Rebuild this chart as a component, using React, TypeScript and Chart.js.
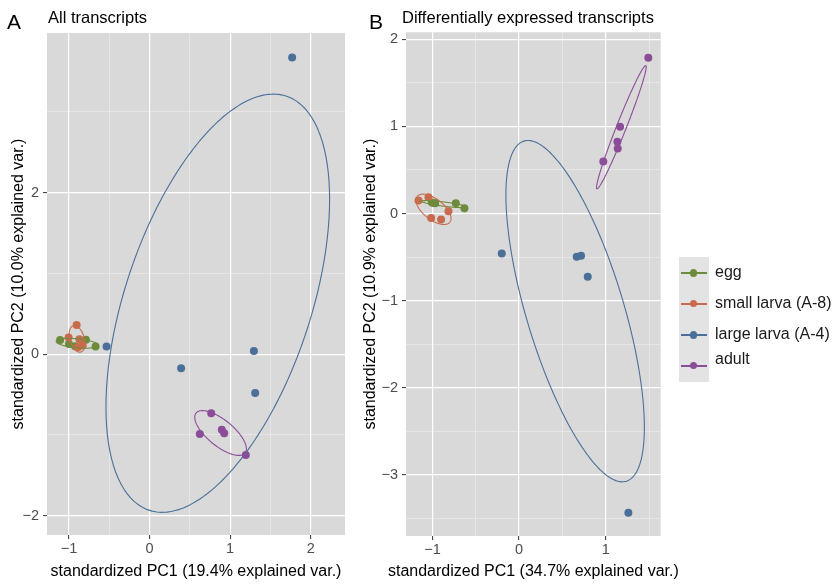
import React, { useEffect, useRef } from 'react';
import { Chart, registerables } from 'chart.js';

Chart.register(...registerables);

const FONT = '"Liberation Sans", Arial, Helvetica, sans-serif';

// ---------- groups ----------
const groupNames = ['egg', 'small larva (A-8)', 'large larva (A-4)', 'adult'];
const groupColors = ['#6E8B3D', '#C86B4C', '#4A6F98', '#8C4D98'];

// ---------- Panel A: all transcripts ----------
const aEggX = [-1.11, -1.0, -0.925, -0.79, -0.67];
const aEggY = [0.175, 0.125, 0.1, 0.18, 0.095];
const aSmallX = [-0.905, -1.005, -0.871, -0.83, -0.889];
const aSmallY = [0.363, 0.207, 0.186, 0.108, 0.086];
const aLargeX = [1.77, -0.534, 0.392, 1.295, 1.311];
const aLargeY = [3.674, 0.095, -0.173, 0.041, -0.479];
const aAdultX = [0.765, 0.624, 0.897, 0.926, 1.195];
const aAdultY = [-0.731, -0.987, -0.937, -0.978, -1.247];

const aXTicks = [-1, -0.5, 0, 0.5, 1, 1.5, 2];
const aXMajor = [-1, 0, 1, 2];
const aYTicks = [-2, -1, 0, 1, 2, 3];
const aYMajor = [-2, 0, 2];

// ---------- Panel B: differentially expressed transcripts ----------
const bEggX = [-1.007, -0.985, -0.969, -0.73, -0.631];
const bEggY = [0.126, 0.12, 0.118, 0.118, 0.061];
const bSmallX = [-1.161, -1.046, -1.015, -0.9, -0.815];
const bSmallY = [0.149, 0.187, -0.05, -0.069, 0.026];
const bLargeX = [-0.2, 0.665, 0.715, 0.792, 1.261];
const bLargeY = [-0.458, -0.497, -0.485, -0.726, -3.433];
const bAdultX = [1.491, 1.165, 1.134, 1.138, 0.972];
const bAdultY = [1.787, 0.997, 0.825, 0.748, 0.596];

const bXTicks = [-1, -0.5, 0, 0.5, 1, 1.5];
const bXMajor = [-1, 0, 1];
const bYTicks = [-3.5, -3, -2.5, -2, -1.5, -1, -0.5, 0, 0.5, 1, 1.5, 2];
const bYMajor = [-3, -2, -1, 0, 1, 2];

const ELLIPSE_PROB = 0.68;

// normal-data ellipse as in ggbiplot (from each group's points)
function dataEllipse(xs: number[], ys: number[]) {
  const n = xs.length;
  const mx = xs.reduce((s, v) => s + v, 0) / n;
  const my = ys.reduce((s, v) => s + v, 0) / n;
  let sxx = 0, syy = 0, sxy = 0;
  for (let i = 0; i < n; i++) {
    const dx = xs[i] - mx, dy = ys[i] - my;
    sxx += dx * dx; syy += dy * dy; sxy += dx * dy;
  }
  sxx /= n - 1; syy /= n - 1; sxy /= n - 1;
  const a = Math.sqrt(sxx);
  const b = sxy / a;
  const c = Math.sqrt(Math.max(syy - b * b, 0));
  const ed = Math.sqrt(-2 * Math.log(1 - ELLIPSE_PROB));
  const pts: { x: number; y: number }[] = [];
  const N = 120;
  for (let k = 0; k <= N; k++) {
    const t = -Math.PI + (2 * Math.PI * k) / N;
    const u = Math.cos(t), v = Math.sin(t);
    pts.push({ x: mx + ed * u * a, y: my + ed * (u * b + v * c) });
  }
  return pts;
}

const fmt = (v: number) => (v < 0 ? '\u2212' + Math.abs(v) : String(v));

const bgPlugin = {
  id: 'panelBg',
  beforeDraw(chart: any) {
    const { ctx, chartArea } = chart;
    if (!chartArea) return;
    ctx.save();
    ctx.fillStyle = '#d9d9d9';
    ctx.fillRect(chartArea.left, chartArea.top, chartArea.width, chartArea.height);
    ctx.restore();
  },
};

// x-axis title drawn without width squeezing, centred under the panel
const xTitlePlugin = {
  id: 'xTitle',
  afterDraw(chart: any, _args: any, opts: any) {
    const { ctx, chartArea } = chart;
    if (!chartArea || !opts || !opts.text) return;
    ctx.save();
    ctx.font = `16px ${FONT}`;
    ctx.fillStyle = '#000000';
    ctx.textAlign = 'center';
    ctx.textBaseline = 'middle';
    ctx.fillText(opts.text, (chartArea.left + chartArea.right) / 2, chart.height - 12);
    ctx.restore();
  },
};

interface PanelSpec {
  xs: number[][];
  ys: number[][];
  xMin: number; xMax: number; yMin: number; yMax: number;
  xTicks: number[]; xMajor: number[]; yTicks: number[]; yMajor: number[];
  xTitle: string; yTitle: string;
  yAxisW: number; xAxisH: number;
  pad: { top: number; right: number; bottom: number; left: number };
  yTitlePad: number;
}

function makeAxis(ticks: number[], major: number[], isX: boolean, spec: PanelSpec) {
  const isMajor = (v: number) => major.includes(v);
  return {
    type: 'linear',
    min: isX ? spec.xMin : spec.yMin,
    max: isX ? spec.xMax : spec.yMax,
    afterBuildTicks: (s: any) => { s.ticks = ticks.map((v) => ({ value: v })); },
    afterFit: (s: any) => {
      if (isX) s.height = spec.xAxisH; else s.width = spec.yAxisW;
    },
    ticks: {
      autoSkip: false,
      maxRotation: 0,
      padding: isX ? 1 : 4,
      color: '#4d4d4d',
      font: { family: FONT, size: 14.5 },
      callback: (v: any) => (isMajor(Number(v)) ? fmt(Number(v)) : ''),
    },
    grid: {
      drawTicks: true,
      tickLength: 4,
      tickWidth: 1,
      color: (ctx: any) => (ctx.tick && isMajor(ctx.tick.value) ? '#ffffff' : 'rgba(255,255,255,0.6)'),
      lineWidth: (ctx: any) => (ctx.tick && isMajor(ctx.tick.value) ? 1.2 : 0.6),
      tickColor: (ctx: any) => (ctx.tick && isMajor(ctx.tick.value) ? '#333333' : 'rgba(0,0,0,0)'),
    },
    border: { display: false },
    title: isX
      ? { display: false }
      : {
          display: true,
          text: spec.yTitle,
          color: '#000000',
          font: { family: FONT, size: 16, lineHeight: 1.2 },
          padding: { top: spec.yTitlePad, bottom: 0 },
        },
  };
}

function makeConfig(spec: PanelSpec): any {
  const pointSets = spec.xs.map((gx, i) => ({
    label: groupNames[i],
    data: gx.map((x, j) => ({ x, y: spec.ys[i][j] })),
    backgroundColor: groupColors[i],
    borderColor: groupColors[i],
    borderWidth: 0,
    pointRadius: 4,
    showLine: false,
  }));
  const ellSets = spec.xs.map((gx, i) => ({
    label: groupNames[i] + ' ellipse',
    data: dataEllipse(gx, spec.ys[i]),
    borderColor: groupColors[i],
    backgroundColor: groupColors[i],
    borderWidth: 1.1,
    pointRadius: 0,
    showLine: true,
    fill: false,
    tension: 0.01,
  }));
  // first dataset is drawn on top in Chart.js: ellipses above points, later groups above earlier
  const datasets = [...ellSets.reverse(), ...pointSets.reverse()];
  return {
    type: 'scatter',
    data: { datasets },
    options: {
      responsive: false,
      animation: false,
      events: [],
      layout: { padding: spec.pad },
      plugins: {
        legend: { display: false },
        tooltip: { enabled: false },
        title: { display: false },
        xTitle: { text: spec.xTitle },
      },
      scales: {
        x: makeAxis(spec.xTicks, spec.xMajor, true, spec),
        y: makeAxis(spec.yTicks, spec.yMajor, false, spec),
      },
    },
    plugins: [bgPlugin, xTitlePlugin],
  };
}

const specA: PanelSpec = {
  xs: [aEggX, aSmallX, aLargeX, aAdultX],
  ys: [aEggY, aSmallY, aLargeY, aAdultY],
  xMin: -1.273, xMax: 2.426, yMin: -2.239, yMax: 3.978,
  xTicks: aXTicks, xMajor: aXMajor, yTicks: aYTicks, yMajor: aYMajor,
  xTitle: 'standardized PC1 (19.4% explained var.)',
  yTitle: 'standardized PC2 (10.0% explained var.)',
  yAxisW: 47, xAxisH: 49,
  pad: { top: 33, right: 15, bottom: 0, left: 0 },
  yTitlePad: 8.8,
};

const specB: PanelSpec = {
  xs: [bEggX, bSmallX, bLargeX, bAdultX],
  ys: [bEggY, bSmallY, bLargeY, bAdultY],
  xMin: -1.305, xMax: 1.634, yMin: -3.7, yMax: 2.08,
  xTicks: bXTicks, xMajor: bXMajor, yTicks: bYTicks, yMajor: bYMajor,
  xTitle: 'standardized PC1 (34.7% explained var.)',
  yTitle: 'standardized PC2 (10.9% explained var.)',
  yAxisW: 46, xAxisH: 48,
  pad: { top: 32.3, right: 39.3, bottom: 0, left: 0 },
  yTitlePad: 0.8,
};

function Panel({ spec, left, width }: { spec: PanelSpec; left: number; width: number }) {
  const ref = useRef<HTMLCanvasElement>(null);
  useEffect(() => {
    if (!ref.current) return;
    const chart = new Chart(ref.current, makeConfig(spec));
    return () => chart.destroy();
  }, [spec]);
  return (
    <canvas
      ref={ref}
      width={width}
      height={584}
      style={{ position: 'absolute', left, top: 0, width, height: 584 }}
    />
  );
}

const legendRows = [
  { key: 273, text: 263.8 },
  { key: 303.5, text: 294.8 },
  { key: 335, text: 325.8 },
  { key: 365.7, text: 350.5 },
];

export default function App() {
  const txt: React.CSSProperties = { position: 'absolute', fontFamily: FONT, lineHeight: 1, whiteSpace: 'nowrap', color: '#000' };
  return (
    <div style={{ position: 'absolute', left: 0, top: 0, width: 840, height: 584, background: '#fff', overflow: 'hidden' }}>
      <Panel spec={specA} left={0} width={360} />
      <Panel spec={specB} left={360} width={340} />
      <span style={{ ...txt, left: 7, top: 11, fontSize: 21 }}>A</span>
      <span style={{ ...txt, left: 48, top: 9.2, fontSize: 16.5 }}>All transcripts</span>
      <span style={{ ...txt, left: 369, top: 11, fontSize: 21 }}>B</span>
      <span style={{ ...txt, left: 402, top: 9.2, fontSize: 16.5 }}>Differentially expressed transcripts</span>
      <div style={{ position: 'absolute', left: 679, top: 257, width: 30, height: 125, background: '#e3e3e3' }} />
      {legendRows.map((r, i) => (
        <React.Fragment key={i}>
          <div style={{ position: 'absolute', left: 681, top: r.key - 1, width: 26, height: 2, background: groupColors[i] }} />
          <div style={{ position: 'absolute', left: 690, top: r.key - 3.7, width: 7.4, height: 7.4, borderRadius: '50%', background: groupColors[i] }} />
          <span style={{ ...txt, left: 715, top: r.text, fontSize: 16, color: '#1a1a1a' }}>{groupNames[i]}</span>
        </React.Fragment>
      ))}
    </div>
  );
}
